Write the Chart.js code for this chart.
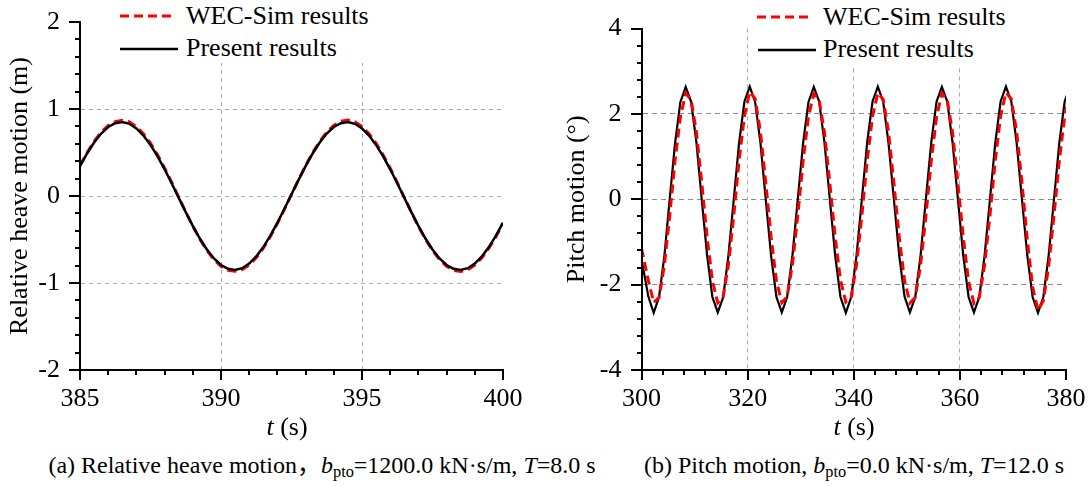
<!DOCTYPE html>
<html>
<head>
<meta charset="utf-8">
<script src="https://cdn.jsdelivr.net/npm/chart.js@4.4.1/dist/chart.umd.min.js"></script>
<style>
  body { margin: 0; background: #fff; }
  #page { position: relative; width: 1091px; height: 486px; overflow: hidden;
          font-family: "Liberation Serif", "Times New Roman", "Noto Sans CJK SC", serif; color: #000; }
  .box { position: absolute; top: 0; height: 420px; }
  .marks { position: absolute; left: 0; top: 0; width: 0; height: 0; z-index: 4; pointer-events: none; }
  .marks div { position: absolute; background: #000; }
  .legend { position: absolute; background: #fff; }
  .sw { position: absolute; }
  .ltext { position: absolute; font-size: 26px; line-height: 1; white-space: nowrap; }
  .xtitle { position: absolute; font-size: 26px; line-height: 1; white-space: nowrap; transform: translateX(-50%); }
  .caption { position: absolute; font-size: 24px; line-height: 1; white-space: nowrap; text-align: center; width: 600px; }
  .caption sub { font-size: 0.68em; vertical-align: -0.22em; }
</style>
</head>
<body>
<div id="page">
  <div class="box" id="heaveBox" style="left:0; width:540px;"><canvas id="heaveChart"></canvas><div class="marks" id="heaveMarks"></div></div>
  <div class="box" id="pitchBox" style="left:540px; width:551px;"><canvas id="pitchChart"></canvas><div class="marks" id="pitchMarks"></div></div>

  <div class="legend" style="left:113px; top:0; width:262px; height:63px;"></div>
  <svg class="sw" style="left:120px; top:13px;" width="55" height="6"><line x1="0" y1="3" x2="55" y2="3" stroke="#ff0000" stroke-width="3" stroke-dasharray="9 5"/></svg>
  <svg class="sw" style="left:120px; top:47px;" width="58" height="4"><line x1="0" y1="2" x2="58" y2="2" stroke="#000" stroke-width="2.5"/></svg>
  <div class="ltext" style="left:186px; top:3px;">WEC-Sim results</div>
  <div class="ltext" style="left:186px; top:35px;">Present results</div>

  <div class="legend" style="left:752px; top:0; width:263px; height:66px;"></div>
  <svg class="sw" style="left:757px; top:14px;" width="55" height="6"><line x1="0" y1="3" x2="55" y2="3" stroke="#ff0000" stroke-width="3" stroke-dasharray="9 5"/></svg>
  <svg class="sw" style="left:758px; top:48px;" width="58" height="4"><line x1="0" y1="2" x2="58" y2="2" stroke="#000" stroke-width="2.5"/></svg>
  <div class="ltext" style="left:823px; top:4px;">WEC-Sim results</div>
  <div class="ltext" style="left:823px; top:36px;">Present results</div>

  <div class="xtitle" style="left:287px; top:414px;"><i>t</i> (s)</div>
  <div class="xtitle" style="left:854px; top:414px;"><i>t</i> (s)</div>

  <div class="caption" style="left:22px; top:453px;">(a) Relative heave motion，<i>b</i><sub>pto</sub>=1200.0 kN·s/m, <i>T</i>=8.0 s</div>
  <div class="caption" style="left:554px; top:453px;">(b) Pitch motion, <i>b</i><sub>pto</sub>=0.0 kN·s/m, <i>T</i>=12.0 s</div>
</div>

<script>
// (a) relative heave motion, every 0.25 s
const heaveTime = [385.00, 385.25, 385.50, 385.75, 386.00, 386.25, 386.50, 386.75, 387.00, 387.25, 387.50, 387.75,
  388.00, 388.25, 388.50, 388.75, 389.00, 389.25, 389.50, 389.75, 390.00, 390.25, 390.50, 390.75,
  391.00, 391.25, 391.50, 391.75, 392.00, 392.25, 392.50, 392.75, 393.00, 393.25, 393.50, 393.75,
  394.00, 394.25, 394.50, 394.75, 395.00, 395.25, 395.50, 395.75, 396.00, 396.25, 396.50, 396.75,
  397.00, 397.25, 397.50, 397.75, 398.00, 398.25, 398.50, 398.75, 399.00, 399.25, 399.50, 399.75, 400.00];
const heavePresent = [0.344, 0.489, 0.615, 0.718, 0.793, 0.837, 0.850, 0.830, 0.777, 0.695, 0.587, 0.455,
  0.307, 0.146, -0.020, -0.185, -0.344, -0.489, -0.615, -0.718, -0.793, -0.837, -0.850, -0.830,
  -0.777, -0.695, -0.587, -0.455, -0.307, -0.146, 0.020, 0.185, 0.344, 0.489, 0.615, 0.718,
  0.793, 0.837, 0.850, 0.830, 0.777, 0.695, 0.587, 0.455, 0.307, 0.146, -0.020, -0.185,
  -0.344, -0.489, -0.615, -0.718, -0.793, -0.837, -0.850, -0.830, -0.777, -0.695, -0.587, -0.455, -0.307];
const heaveWecSim = [0.350, 0.497, 0.628, 0.734, 0.810, 0.855, 0.870, 0.852, 0.798, 0.716, 0.607, 0.474,
  0.322, 0.158, -0.012, -0.183, -0.347, -0.496, -0.626, -0.732, -0.808, -0.853, -0.866, -0.846,
  -0.792, -0.709, -0.600, -0.467, -0.316, -0.152, 0.018, 0.187, 0.350, 0.498, 0.628, 0.735,
  0.812, 0.858, 0.873, 0.853, 0.799, 0.716, 0.606, 0.472, 0.320, 0.155, -0.015, -0.186,
  -0.349, -0.497, -0.626, -0.732, -0.809, -0.855, -0.868, -0.848, -0.794, -0.711, -0.601, -0.468, -0.316];
const heaveXLabels = [385, 390, 395, 400];
const heaveYLabels = [-2, -1, 0, 1, 2];

// (b) pitch motion, sampled points of the polyline
const pitchTime = [300.00, 301.29, 302.30, 303.31, 304.31, 305.32, 306.32, 307.33, 308.33, 309.34, 310.35,
  311.35, 312.36, 313.36, 314.37, 315.38, 316.38, 317.39, 318.39, 319.40, 320.40, 321.41, 322.42, 323.42,
  324.43, 325.43, 326.44, 327.45, 328.45, 329.46, 330.46, 331.47, 332.47, 333.48, 334.49, 335.49, 336.50,
  337.50, 338.51, 339.52, 340.52, 341.53, 342.53, 343.54, 344.54, 345.55, 346.56, 347.56, 348.57, 349.57,
  350.58, 351.59, 352.59, 353.60, 354.60, 355.61, 356.61, 357.62, 358.63, 359.63, 360.64, 361.64, 362.65,
  363.66, 364.66, 365.67, 366.67, 367.68, 368.68, 369.69, 370.70, 371.70, 372.71, 373.71, 374.72, 375.73,
  376.73, 377.74, 378.74, 379.75, 380.76];
const pitchPresent = [-1.40, -2.28, -2.66, -2.29, -1.33, 0.01, 1.31, 2.28, 2.63, 2.29, 1.33,
  0.00, -1.31, -2.29, -2.65, -2.30, -1.32, 0.00, 1.32, 2.29, 2.64, 2.28, 1.32, -0.01,
  -1.33, -2.29, -2.65, -2.29, -1.31, 0.01, 1.32, 2.28, 2.63, 2.29, 1.32, 0.00, -1.32,
  -2.29, -2.66, -2.29, -1.32, 0.00, 1.33, 2.29, 2.64, 2.28, 1.31, 0.00, -1.32, -2.28,
  -2.65, -2.29, -1.32, 0.01, 1.32, 2.29, 2.63, 2.29, 1.32, 0.00, -1.32, -2.29, -2.65,
  -2.29, -1.32, 0.00, 1.32, 2.29, 2.64, 2.29, 1.32, 0.00, -1.32, -2.29, -2.66, -2.29,
  -1.32, 0.00, 1.32, 2.29, 2.63];
const pitchWecSim = [-1.15, -1.90, -2.42, -2.30, -1.55, -0.38, 0.90, 1.93, 2.48, 2.34, 1.57,
  0.40, -0.88, -1.90, -2.43, -2.29, -1.54, -0.38, 0.91, 1.95, 2.52, 2.36, 1.58, 0.39,
  -0.89, -1.91, -2.42, -2.28, -1.53, -0.37, 0.90, 1.94, 2.47, 2.33, 1.56, 0.38, -0.88,
  -1.89, -2.41, -2.29, -1.54, -0.38, 0.90, 1.94, 2.49, 2.34, 1.57, 0.39, -0.88, -1.90,
  -2.43, -2.30, -1.55, -0.39, 0.89, 1.93, 2.48, 2.33, 1.56, 0.38, -0.89, -1.92, -2.44,
  -2.30, -1.54, -0.38, 0.90, 1.95, 2.50, 2.35, 1.58, 0.40, -0.95, -2.05, -2.60, -2.38,
  -1.58, -0.38, 0.90, 1.94, 2.48];
const pitchXLabels = [300, 320, 340, 360, 380];
const pitchYLabels = [-4, -2, 0, 2, 4];

const FONT = '"Liberation Serif", "Times New Roman", serif';
Chart.defaults.font.family = FONT;
Chart.defaults.color = '#000';

function isIn(list, v) {
  for (let i = 0; i < list.length; i++) {
    if (Math.abs(list[i] - v) < 1e-6) return true;
  }
  return false;
}

// axis lines and tick marks as small blocks placed from the chart's own scales:
// long ticks at the labelled values, short ones between
function placeMarks(chart, holderId, xLabels, yLabels) {
  const holder = document.getElementById(holderId);
  const a = chart.chartArea;
  const xs = chart.scales.x, ys = chart.scales.y;
  const L = Math.round(a.left), T = Math.round(a.top), R = Math.round(a.right), B = Math.round(a.bottom);
  const parts = [];
  const block = (x, y, w, h) => parts.push('<div style="left:' + x + 'px;top:' + y + 'px;width:' + w + 'px;height:' + h + 'px"></div>');
  block(L - 1, T, 2, B - T + 1);
  block(L - 1, B - 1, R - L + 2, 2);
  xs.ticks.forEach(t => {
    const px = Math.round(xs.getPixelForValue(t.value));
    block(px - 1, B, 2, isIn(xLabels, t.value) ? 10 : 5);
  });
  ys.ticks.forEach(t => {
    const py = Math.round(ys.getPixelForValue(t.value));
    const len = isIn(yLabels, t.value) ? 11 : 5;
    block(L - len, py - 1, len, 2);
  });
  holder.innerHTML = parts.join('');
}

function marksPlugin(holderId, xLabels, yLabels) {
  return { id: 'axisMarks', afterDraw(chart) { placeMarks(chart, holderId, xLabels, yLabels); } };
}

// one axis: labels only at the major values, dashed grid on the inner majors
function makeAxis(o) {
  const lo = o.labels[0], hi = o.labels[o.labels.length - 1];
  const major = v => isIn(o.labels, v);
  const inner = v => major(v) && Math.abs(v - lo) > 1e-6 && Math.abs(v - hi) > 1e-6;
  const left = o.pos === 'left';
  const axis = {
    type: 'linear', position: o.pos, min: lo, max: hi,
    afterFit: s => {
      if (left) { s.width = o.size; s.paddingTop = 0; s.paddingBottom = 0; }
      else s.height = o.size;
    },
    ticks: {
      stepSize: o.step, autoSkip: false, maxRotation: 0, padding: o.padding,
      color: '#000', font: { family: FONT, size: 26 },
      callback: v => major(v) ? String(Math.round(v)) : ''
    },
    grid: {
      drawTicks: true, tickLength: 10, tickColor: 'rgba(0,0,0,0)', lineWidth: 1,
      color: c => (c.tick && inner(c.tick.value)) ? o.gridColor : 'rgba(0,0,0,0)'
    },
    border: { display: true, color: '#000', width: 2, dash: c => c.tick ? o.gridDash : [] }
  };
  if (o.title) {
    axis.title = { display: true, text: o.title, color: '#000',
      font: { family: FONT, size: 26 }, padding: { top: o.titlePad, bottom: 0 } };
  }
  return axis;
}

function pairs(xs, ys) {
  return xs.map((x, i) => ({ x: x, y: ys[i] }));
}

const heaveChart = new Chart(document.getElementById('heaveChart'), {
  type: 'line',
  data: {
    datasets: [
      { label: 'Present results', data: pairs(heaveTime, heavePresent), borderColor: '#000',
        borderWidth: 2.5, pointRadius: 0, tension: 0, order: 0 },
      { label: 'WEC-Sim results', data: pairs(heaveTime, heaveWecSim), borderColor: '#ff0000',
        borderWidth: 3, borderDash: [9, 5], pointRadius: 0, tension: 0, order: 1 }
    ]
  },
  options: {
    responsive: true, maintainAspectRatio: false, animation: false,
    layout: { padding: { top: 22, right: 37, bottom: 0, left: 0 } },
    plugins: { legend: { display: false }, tooltip: { enabled: false } },
    scales: {
      x: makeAxis({ pos: 'bottom', labels: heaveXLabels, step: 1, size: 50, padding: 4,
        gridColor: '#a8a8a8', gridDash: [4, 4] }),
      y: makeAxis({ pos: 'left', labels: heaveYLabels, step: 0.2, size: 80, padding: 10,
        gridColor: '#a8a8a8', gridDash: [4, 4], title: 'Relative heave motion (m)', titlePad: 5 })
    }
  },
  plugins: [marksPlugin('heaveMarks', heaveXLabels, heaveYLabels)]
});

const pitchChart = new Chart(document.getElementById('pitchChart'), {
  type: 'line',
  data: {
    datasets: [
      { label: 'WEC-Sim results', data: pairs(pitchTime, pitchWecSim), borderColor: '#ff0000',
        borderWidth: 3, borderDash: [9, 5], pointRadius: 0, tension: 0, order: 0 },
      { label: 'Present results', data: pairs(pitchTime, pitchPresent), borderColor: '#000',
        borderWidth: 2.2, pointRadius: 0, tension: 0, order: 1 }
    ]
  },
  options: {
    responsive: true, maintainAspectRatio: false, animation: false,
    layout: { padding: { top: 28.5, right: 25, bottom: 0, left: 0 } },
    plugins: { legend: { display: false }, tooltip: { enabled: false } },
    scales: {
      x: makeAxis({ pos: 'bottom', labels: pitchXLabels, step: 4, size: 50, padding: 4,
        gridColor: '#a8a8a8', gridDash: [4, 4] }),
      y: makeAxis({ pos: 'left', labels: pitchYLabels, step: 0.4, size: 101.5, padding: 10,
        gridColor: '#8c8c8c', gridDash: [5, 4], title: 'Pitch motion (°)', titlePad: 22 })
    }
  },
  plugins: [marksPlugin('pitchMarks', pitchXLabels, pitchYLabels)]
});

placeMarks(heaveChart, 'heaveMarks', heaveXLabels, heaveYLabels);
placeMarks(pitchChart, 'pitchMarks', pitchXLabels, pitchYLabels);
</script>
</body>
</html>
